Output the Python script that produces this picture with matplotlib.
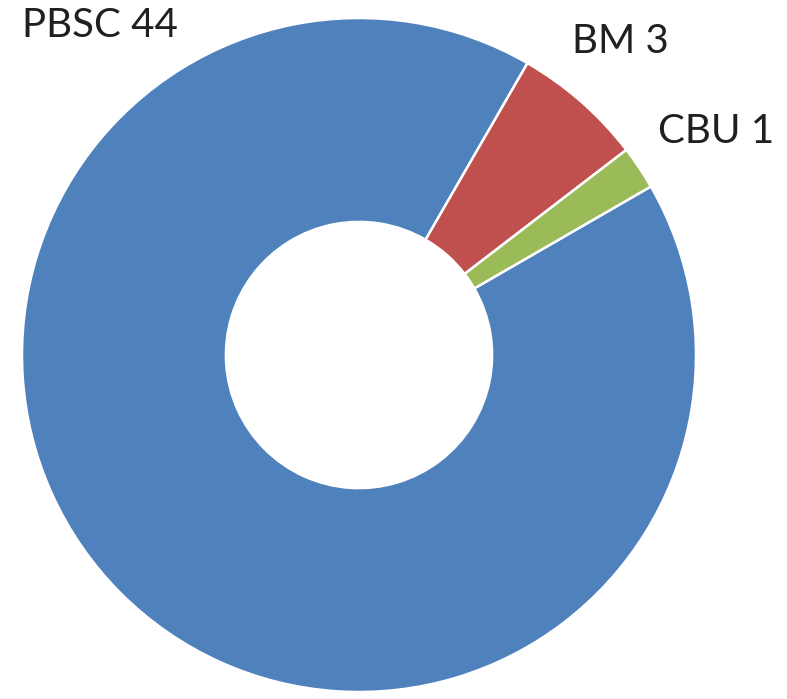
import matplotlib
matplotlib.use("Agg")
import matplotlib.pyplot as plt

# donut data
labels = ["PBSC", "BM", "CBU"]
counts = [44, 3, 1]
colors = ["#4F81BD", "#C0504D", "#9BBB59"]

W, H = 787, 699
fig = plt.figure(figsize=(W / 100, H / 100), dpi=100)

# pie spans roughly x 22..696, y 18..692 (pixels, top-down)
ax = fig.add_axes([22 / W, (H - 692) / H, 674 / W, 674 / H])
ax.pie(counts, colors=colors, startangle=30, counterclock=False,
       radius=1.0, wedgeprops=dict(width=0.605, edgecolor="white", linewidth=1.8))
ax.set_xlim(-1.0, 1.0)
ax.set_ylim(-1.0, 1.0)
ax.set_aspect("auto")
ax.axis("off")

# label anchors (centre x, baseline y in pixels)
label_pos = [(100, 37), (620, 53), (716, 143)]
for name, n, (px, py) in zip(labels, counts, label_pos):
    fig.text(px / W, (H - py) / H, f"{name} {n}", ha="center", va="baseline",
             fontsize=29, family=["Lato", "DejaVu Sans"], color="#231F20")

fig.savefig("out.png", dpi=100)
